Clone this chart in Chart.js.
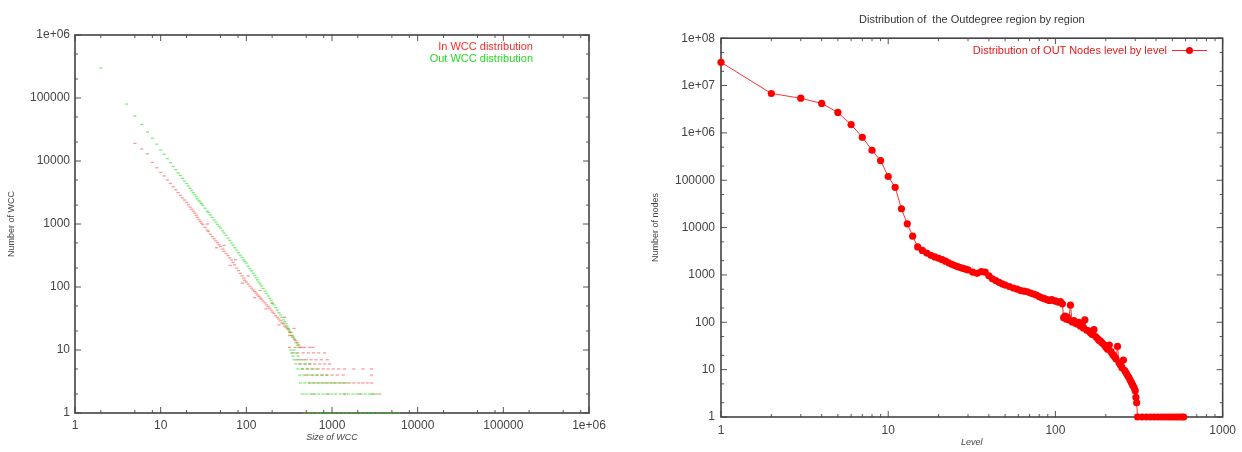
<!DOCTYPE html>
<html>
<head>
<meta charset="utf-8">
<script src="https://cdn.jsdelivr.net/npm/chart.js@4.4.1/dist/chart.umd.min.js"></script>
<style>
  html, body { margin: 0; padding: 0; background: #fff; }
  #wrap { position: relative; width: 1242px; height: 452px; overflow: hidden; }
  .panel { position: absolute; top: 0; height: 452px; }
  #left { left: 0; width: 620px; }
  #right { left: 620px; width: 622px; }
  .legend { position: absolute; font: 11px "Liberation Sans", Arial, sans-serif; line-height: 12px; text-align: right; white-space: nowrap; }
  .sample { display: inline-block; position: relative; width: 35px; height: 12px; margin-left: 5px; vertical-align: top; }
  .sample:before { content: ""; position: absolute; left: 0; right: 0; top: 6px; border-top: 1px solid #f22; }
  .sample:after { content: ""; position: absolute; left: 14px; top: 3px; width: 7px; height: 7px; border-radius: 50%; background: #f00; }
</style>
</head>
<body>
<div id="wrap">
  <div class="panel" id="left">
    <canvas id="wccChart" width="620" height="452"></canvas>
    <div class="legend" style="right:87px; top:40px;">
      <div style="color:#ff2a2a">In WCC distribution</div>
      <div style="color:#22dd22">Out WCC distribution</div>
    </div>
  </div>
  <div class="panel" id="right">
    <canvas id="outChart" width="622" height="452"></canvas>
    <div class="legend" style="right:35px; top:44px; color:#e51a1a">Distribution of OUT Nodes level by level<span class="sample"></span></div>
  </div>
</div>
<script>
// ---- left chart: WCC size distributions ----
const leftTickValues = [1, 10, 100, 1000, 10000, 100000, 1000000];
const leftTickLabels = ['1', '10', '100', '1000', '10000', '100000', '1e+06'];

// In WCC (red): the power-law part
const inDiagSizes = [5, 6, 7, 8, 9, 10, 11, 12, 13, 14, 15, 16, 17, 18, 19, 20, 21, 22, 23, 24, 25, 26, 27, 28, 29, 30, 31, 33, 35, 36, 38, 40, 42, 44, 46, 48, 50, 53, 55, 58, 61, 64, 67, 70, 73, 77, 81, 85, 89, 93, 96, 100, 105, 110, 115, 120, 125, 130, 135, 140, 145, 150, 157, 165, 172, 180, 187, 195, 202, 210, 220, 230, 240, 250, 260, 270, 280, 290, 300, 310, 320, 330, 340, 350, 365, 380, 395, 410, 440,
  35, 45, 55, 65, 75, 90, 105, 125, 145, 170, 200, 240, 280, 320, 360];
const inDiagCounts = [19000, 15500, 13000, 9500, 7800, 6600, 5800, 5000, 4400, 3900, 3500, 3150, 2850, 2600, 2400, 2200, 2020, 1850, 1720, 1600, 1490, 1380, 1280, 1180, 1100, 1030, 980, 880, 800, 760, 690, 630, 585, 540, 505, 470, 440, 400, 370, 340, 315, 290, 268, 245, 225, 200, 182, 165, 150, 138, 128, 120, 111, 103, 96, 90, 85, 80, 75, 71, 67, 64, 60, 56, 52, 49, 46, 43, 40, 38, 35, 33, 31, 29, 27, 26, 24, 23, 22, 21, 19, 19, 17, 16, 15, 14, 13, 12, 11,
  1000, 420, 460, 220, 270, 115, 150, 68, 88, 45, 55, 25, 33, 17, 22];
// In WCC (red): repeated small counts
const inBandCounts = [1, 2, 3, 4, 5, 6, 7, 9, 11];
const inBandSizes = [
  [520, 700, 1000, 1500, 2200, 3500, 5000],
  [600, 900, 1400, 2100, 3000, 3600],
  [550, 620, 700, 790, 880, 990, 1100, 1250, 1400, 1600, 1800, 2050, 2300, 2600, 2900],
  [500, 580, 660, 760, 870, 1000, 1150, 1350, 2900],
  [450, 520, 600, 690, 790, 900, 1030, 1200, 1400, 1800, 2300, 2900],
  [420, 480, 550, 630, 720, 820, 940],
  [390, 440, 500, 570, 650, 750, 880],
  [350, 400, 460, 530, 610, 700, 820],
  [320, 370, 420, 480, 550, 600]
];

// Out WCC (green): the power-law part
const outDiagSizes = [2, 4, 5, 6, 7, 8, 9, 10, 11, 12, 13, 14, 15, 16, 17, 18, 19, 20, 21, 22, 23, 24, 25, 26, 27, 28, 29, 30, 31, 33, 35, 36, 38, 40, 42, 44, 46, 48, 50, 53, 55, 58, 61, 64, 67, 70, 73, 77, 81, 85, 89, 93, 96, 100, 105, 110, 115, 120, 125, 130, 135, 140, 145, 150, 157, 165, 172, 180, 187, 195, 202, 210, 220, 230, 240, 250, 260, 270, 280, 290, 300, 310, 320, 330, 340, 350, 365, 380, 395, 410];
const outDiagCounts = [300000, 80000, 52000, 38000, 29000, 23000, 18500, 15000, 12800, 10900, 9400, 8200, 7300, 6500, 5900, 5300, 4800, 4400, 4050, 3700, 3400, 3150, 2900, 2700, 2500, 2350, 2220, 2100, 1980, 1780, 1600, 1520, 1390, 1270, 1160, 1070, 990, 920, 860, 780, 720, 660, 600, 550, 500, 460, 420, 385, 350, 320, 295, 270, 255, 240, 215, 195, 180, 165, 152, 140, 130, 120, 112, 104, 95, 86, 79, 72, 66, 61, 56, 52, 47, 43, 39, 36, 33, 30, 28, 26, 24, 22, 20, 19, 17, 16, 14.5, 13, 12, 11];
// Out WCC (green): repeated small counts
const outBandCounts = [1, 2, 3, 4, 5, 6, 7, 8, 9, 10];
const outBandSizes = [
  [480, 540, 600, 680, 760, 850, 950, 1070, 1200, 1350, 1500, 1700, 1900, 2150, 2400, 2700, 3000, 3400, 3800, 4300, 4800, 5400, 6000],
  [450, 500, 560, 630, 700, 790, 880, 990, 1100, 1250, 1400, 1550, 1750, 1950, 2200, 2450, 2750, 3000, 3300],
  [430, 480, 540, 600, 680, 760, 850, 950, 1070, 1200, 1350, 1500],
  [420, 470, 530, 600, 680, 770, 870],
  [400, 450, 510, 580, 660],
  [380, 430, 490, 550],
  [360, 410, 470],
  [350, 400],
  [340, 380],
  [330, 360]
];

// ---- right chart: OUT nodes per level ----
const rightXTickValues = [1, 10, 100, 1000];
const rightXTickLabels = ['1', '10', '100', '1000'];
const rightYTickValues = [1, 10, 100, 1000, 10000, 100000, 1e6, 1e7, 1e8];
const rightYTickLabels = ['1', '10', '100', '1000', '10000', '100000', '1e+06', '1e+07', '1e+08'];

const outLevels = [1, 2, 3, 4, 5, 6, 7, 8, 9, 10, 11, 12, 13, 14, 15, 16, 17, 18, 19, 20, 21, 22, 23, 24, 25, 26, 27, 28, 29, 30,
  32, 34, 36, 38, 40, 42, 44, 46, 48, 50, 53, 56, 59, 62, 65, 68, 71, 74, 77, 80, 83, 86, 89, 92, 95, 98, 101, 104, 107, 110,
  112, 114, 116, 118, 120, 123, 126, 129, 132, 135, 138, 141, 144, 147, 150, 154, 158, 162, 166, 170, 174, 178, 182, 186, 190,
  195, 200, 205, 210, 215, 220, 225, 230, 235, 240, 245, 250, 255, 260, 265, 270, 275, 280, 285, 290, 295, 300, 303, 306,
  310, 330, 350, 370, 390, 410, 430, 450, 470, 490, 510, 530, 550, 570, 585];
const outNodes = [31000000, 6800000, 5400000, 4200000, 2700000, 1500000, 810000, 430000, 260000, 120000, 71000, 25000, 12000, 6600, 3900, 3300, 2900, 2600, 2400, 2250, 2100, 1950, 1800, 1680, 1580, 1500, 1430, 1380, 1330, 1280,
  1150, 1080, 1170, 1150, 960, 830, 760, 700, 650, 610, 570, 530, 500, 470, 455, 440, 415, 395, 375, 350, 330, 315, 300, 290, 300, 285, 280, 265, 275, 245,
  125, 135, 118, 128, 112, 230, 102, 108, 96, 92, 100, 84, 86, 76, 112, 68, 66, 60, 55, 70, 50, 46, 42, 40, 37,
  34, 30, 27, 33, 24, 21, 19, 17, 31, 14, 12.5, 11, 16, 9.5, 8.5, 7.5, 6.8, 6, 5.3, 4.7, 4.2, 3.6, 2.6, 2,
  1, 1, 1, 1, 1, 1, 1, 1, 1, 1, 1, 1, 1, 1, 1];

const tickFont = { family: '"Liberation Sans", Arial, sans-serif', size: 12 };
const titleFont = { family: '"Liberation Sans", Arial, sans-serif', size: 9 };

function pairs(xs, ys) {
  return xs.map((x, i) => ({ x: x, y: ys[i] }));
}
function bandPoints(counts, sizes) {
  const pts = [];
  counts.forEach((c, i) => sizes[i].forEach(s => pts.push({ x: s, y: c })));
  return pts;
}
function minorTicks(min, max, steps) {
  const out = [];
  for (let d = min; d < max; d *= 10) steps.forEach(m => out.push(d * m));
  return out;
}

// gnuplot style box with inward ticks on all four sides
const frame = {
  id: 'frame',
  beforeDatasetsDraw(chart, args, opts) {
    const { ctx, chartArea: a, scales: { x, y } } = chart;
    ctx.save();
    ctx.strokeStyle = '#555';
    ctx.lineWidth = 1;
    const seg = (x1, y1, x2, y2) => { ctx.beginPath(); ctx.moveTo(x1, y1); ctx.lineTo(x2, y2); ctx.stroke(); };
    const xt = (v, len) => { const p = x.getPixelForValue(v); seg(p, a.bottom, p, a.bottom - len); seg(p, a.top, p, a.top + len); };
    const yt = (v, len) => { const p = y.getPixelForValue(v); seg(a.left, p, a.left + len, p); seg(a.right, p, a.right - len, p); };
    opts.xMajor.forEach(v => xt(v, 6));
    opts.xMinor.forEach(v => xt(v, 3));
    opts.yMajor.forEach(v => yt(v, 6));
    opts.yMinor.forEach(v => yt(v, 3));
    ctx.lineWidth = 1.6;
    ctx.strokeStyle = '#444';
    ctx.strokeRect(a.left, a.top, a.right - a.left, a.bottom - a.top);
    ctx.restore();
  }
};

function logAxis(values, labels, opts) {
  return {
    type: 'logarithmic',
    position: opts.position,
    min: values[0],
    max: values[values.length - 1],
    grid: { display: false, drawTicks: false },
    border: { display: false },
    afterBuildTicks: s => { s.ticks = values.map(v => ({ value: v })); },
    afterFit: s => { if (opts.width) s.width = opts.width; if (opts.height) s.height = opts.height; },
    ticks: {
      autoSkip: false, maxRotation: 0, padding: opts.padding, font: tickFont, color: '#444',
      callback: v => labels[values.indexOf(v)]
    },
    title: { display: true, text: opts.title, color: '#444', font: Object.assign({}, titleFont, { style: opts.italic ? 'italic' : 'normal' }), padding: opts.titlePadding }
  };
}

new Chart(document.getElementById('wccChart'), {
  type: 'scatter',
  data: {
    datasets: [
      { label: 'Out WCC distribution', order: 0, data: pairs(outDiagSizes, outDiagCounts).concat(bandPoints(outBandCounts, outBandSizes)),
        pointStyle: 'line', pointRadius: 1.6, borderWidth: 1.3, borderColor: 'rgba(40,225,40,0.6)', backgroundColor: 'rgba(40,225,40,0.6)', clip: false },
      { label: 'In WCC distribution', order: 1, data: pairs(inDiagSizes, inDiagCounts).concat(bandPoints(inBandCounts, inBandSizes)),
        pointStyle: 'line', pointRadius: 1.6, borderWidth: 1.3, borderColor: 'rgba(255,50,50,0.5)', backgroundColor: 'rgba(255,50,50,0.5)', clip: false }
    ]
  },
  options: {
    responsive: false,
    animation: false,
    layout: { padding: { top: 35, right: 31, left: 0, bottom: 0 } },
    plugins: {
      legend: { display: false },
      tooltip: { enabled: false },
      frame: {
        xMajor: leftTickValues, yMajor: leftTickValues,
        xMinor: minorTicks(1, 1e6, [2, 5, 8]), yMinor: minorTicks(1, 1e6, [2, 5])
      }
    },
    scales: {
      x: logAxis(leftTickValues, leftTickLabels, { position: 'bottom', height: 39, padding: 5, title: 'Size of WCC', italic: true, titlePadding: { top: 0, bottom: 9 } }),
      y: logAxis(leftTickValues, leftTickLabels, { position: 'left', width: 75, padding: 5, title: 'Number of WCC', titlePadding: { top: 6, bottom: 0 } })
    }
  },
  plugins: [frame]
});

new Chart(document.getElementById('outChart'), {
  type: 'line',
  data: {
    datasets: [{
      label: 'Distribution of OUT Nodes level by level',
      data: pairs(outLevels, outNodes),
      borderColor: '#f33', borderWidth: 1, tension: 0,
      pointRadius: 3.6, pointBorderWidth: 0, pointBackgroundColor: '#f00',
      clip: false
    }]
  },
  options: {
    responsive: false,
    animation: false,
    layout: { padding: { top: 0, right: 19, left: 0, bottom: 0 } },
    plugins: {
      legend: { display: false },
      tooltip: { enabled: false },
      title: {
        display: true, fullSize: false, text: 'Distribution of  the Outdegree region by region',
        color: '#333', font: { family: '"Liberation Sans", Arial, sans-serif', size: 11, weight: 'normal' },
        padding: { top: 13, bottom: 12 }
      },
      frame: {
        xMajor: rightXTickValues, yMajor: rightYTickValues,
        xMinor: minorTicks(1, 1000, [2, 3, 4, 5, 6, 7, 8, 9]), yMinor: minorTicks(1, 1e8, [2, 5])
      }
    },
    scales: {
      x: logAxis(rightXTickValues, rightXTickLabels, { position: 'bottom', height: 35, padding: 6, title: 'Level', italic: true, titlePadding: { top: 0, bottom: 4 } }),
      y: logAxis(rightYTickValues, rightYTickLabels, { position: 'left', width: 101, padding: 6, title: 'Number of nodes', titlePadding: { top: 30, bottom: 0 } })
    }
  },
  plugins: [frame]
});
</script>
</body>
</html>
